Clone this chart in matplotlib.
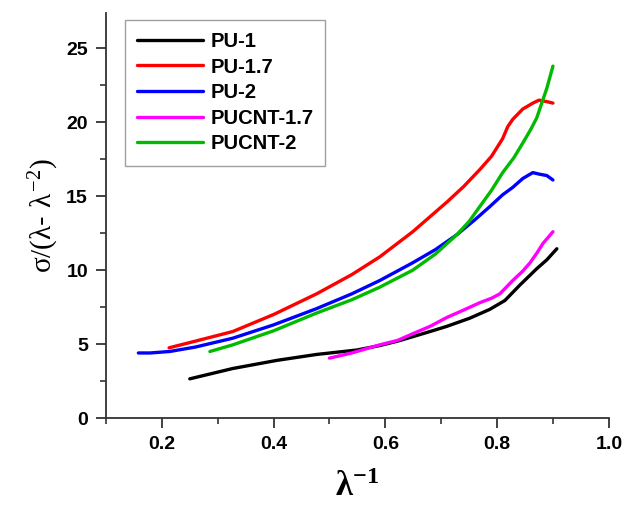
import matplotlib.pyplot as plt
from matplotlib.ticker import MultipleLocator

# readings from the reference figure
pu1_x = [0.25, 0.327, 0.406, 0.477, 0.549, 0.59, 0.622, 0.649, 0.68, 0.71, 0.751, 0.787, 0.814, 0.841, 0.871, 0.889, 0.907]
pu1_y = [2.65, 3.35, 3.9, 4.3, 4.6, 4.9, 5.2, 5.5, 5.85, 6.2, 6.75, 7.35, 7.95, 9.0, 10.1, 10.7, 11.45]

pu17_x = [0.213, 0.26, 0.327, 0.40, 0.477, 0.54, 0.59, 0.649, 0.71, 0.74, 0.769, 0.79, 0.81, 0.819, 0.828, 0.846, 0.864, 0.875, 0.889, 0.9]
pu17_y = [4.75, 5.2, 5.85, 7.0, 8.4, 9.7, 10.9, 12.6, 14.6, 15.65, 16.8, 17.7, 18.9, 19.7, 20.2, 20.9, 21.3, 21.5, 21.4, 21.3]

pu2_x = [0.158, 0.179, 0.214, 0.26, 0.327, 0.40, 0.477, 0.54, 0.59, 0.649, 0.69, 0.728, 0.76, 0.787, 0.81, 0.828, 0.846, 0.864, 0.875, 0.889, 0.9]
pu2_y = [4.4, 4.4, 4.5, 4.8, 5.4, 6.3, 7.4, 8.4, 9.3, 10.5, 11.4, 12.4, 13.4, 14.3, 15.1, 15.6, 16.2, 16.6, 16.5, 16.4, 16.1]

pucnt17_x = [0.50, 0.54, 0.59, 0.622, 0.649, 0.68, 0.71, 0.74, 0.769, 0.79, 0.805, 0.828, 0.845, 0.859, 0.872, 0.882, 0.9]
pucnt17_y = [4.05, 4.4, 4.95, 5.25, 5.7, 6.2, 6.8, 7.3, 7.8, 8.1, 8.4, 9.3, 9.9, 10.5, 11.2, 11.8, 12.6]

pucnt2_x = [0.286, 0.327, 0.40, 0.477, 0.54, 0.59, 0.649, 0.69, 0.728, 0.75, 0.769, 0.79, 0.81, 0.83, 0.846, 0.86, 0.871, 0.88, 0.889, 0.9]
pucnt2_y = [4.5, 4.95, 5.9, 7.1, 8.0, 8.85, 10.0, 11.1, 12.4, 13.3, 14.3, 15.4, 16.6, 17.6, 18.6, 19.5, 20.3, 21.3, 22.3, 23.8]

series = [
    ("PU-1", pu1_x, pu1_y, "#000000"),
    ("PU-1.7", pu17_x, pu17_y, "#ff0000"),
    ("PU-2", pu2_x, pu2_y, "#0000ff"),
    ("PUCNT-1.7", pucnt17_x, pucnt17_y, "#ff00ff"),
    ("PUCNT-2", pucnt2_x, pucnt2_y, "#00bb00"),
]

plt.rcParams["font.family"] = ["Liberation Sans", "DejaVu Sans"]
plt.rcParams["mathtext.fontset"] = "custom"
plt.rcParams["mathtext.rm"] = "Liberation Serif"
plt.rcParams["mathtext.it"] = "Liberation Serif"
plt.rcParams["mathtext.bf"] = "Liberation Serif:bold"

fig = plt.figure(figsize=(6.27, 5.07), dpi=100)
ax = fig.add_axes([0.169, 0.1755, 0.802, 0.799])

for name, xs, ys, col in series:
    ax.plot(xs, ys, color=col, linewidth=2.4, label=name, solid_capstyle="round")

ax.set_xlim(0.1, 1.0)
ax.set_ylim(0, 27.4)
ax.xaxis.set_major_locator(MultipleLocator(0.2))
ax.xaxis.set_minor_locator(MultipleLocator(0.1))
ax.yaxis.set_major_locator(MultipleLocator(5))
ax.yaxis.set_minor_locator(MultipleLocator(2.5))
ax.set_xticks([0.2, 0.4, 0.6, 0.8, 1.0])
ax.set_xticklabels(["0.2", "0.4", "0.6", "0.8", "1.0"])

for s in ("top", "right"):
    ax.spines[s].set_visible(False)
for s in ("left", "bottom"):
    ax.spines[s].set_color("#333333")
    ax.spines[s].set_linewidth(1.3)

ax.tick_params(which="major", direction="out", length=7, width=1.3, color="#333333",
               labelsize=14, pad=6)
ax.tick_params(which="minor", direction="out", length=4, width=1.2, color="#333333")
for lbl in ax.get_xticklabels() + ax.get_yticklabels():
    lbl.set_fontweight("bold")

ax.set_xlabel(r"$\mathbf{\lambda^{-1}}$", fontsize=25, labelpad=12)
ax.set_ylabel(r"$\sigma/(\lambda$- $\lambda^{-2})$", fontsize=21, labelpad=4)

leg = ax.legend(loc="upper left", bbox_to_anchor=(0.037, 0.983), frameon=True, fancybox=False,
                handlelength=3.3, handletextpad=0.35, labelspacing=0.33, borderpad=0.6,
                borderaxespad=0.0, prop={"weight": "bold", "size": 14.5})
leg.get_frame().set_edgecolor("#888888")
leg.get_frame().set_linewidth(1.0)

fig.savefig("out.png", dpi=100)
